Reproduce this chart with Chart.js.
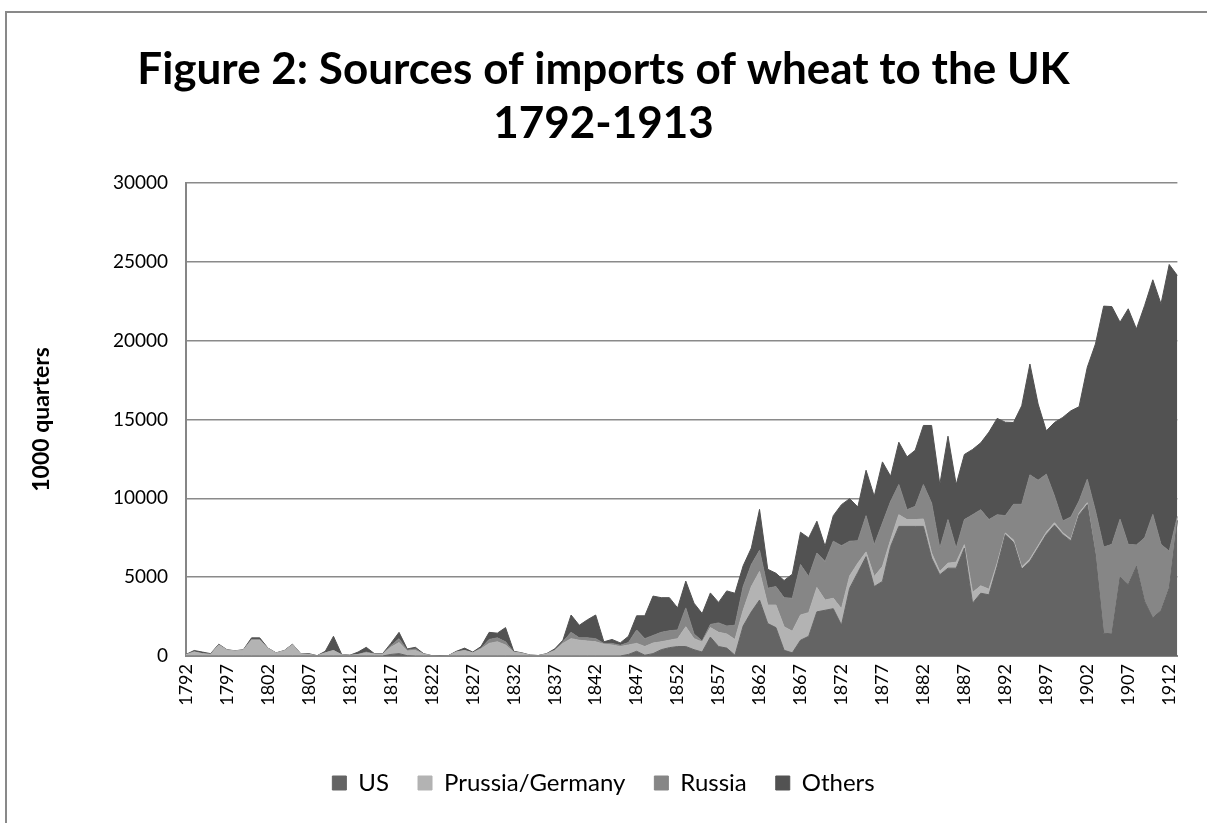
<!DOCTYPE html>
<html>
<head>
<meta charset="utf-8">
<title>Sources of imports of wheat to the UK 1792-1913</title>
<script src="https://cdn.jsdelivr.net/npm/chart.js@4"></script>
<style>
  html, body { margin: 0; padding: 0; background: #fff; overflow: hidden; }
  #frame { position: absolute; left: 5px; top: 11px; width: 1230px; height: 840px;
           border: 2px solid #898989; box-sizing: border-box; }
  #wrap { position: absolute; left: 0; top: 0; width: 1207px; height: 823px; }
</style>
</head>
<body>
<div id="frame"></div>
<div id="wrap"><canvas id="myChart" width="1207" height="823"></canvas></div>
<script>
// years 1792-1913
let years = [
  1792, 1793, 1794, 1795, 1796, 1797, 1798, 1799, 1800, 1801,
  1802, 1803, 1804, 1805, 1806, 1807, 1808, 1809, 1810, 1811,
  1812, 1813, 1814, 1815, 1816, 1817, 1818, 1819, 1820, 1821,
  1822, 1823, 1824, 1825, 1826, 1827, 1828, 1829, 1830, 1831,
  1832, 1833, 1834, 1835, 1836, 1837, 1838, 1839, 1840, 1841,
  1842, 1843, 1844, 1845, 1846, 1847, 1848, 1849, 1850, 1851,
  1852, 1853, 1854, 1855, 1856, 1857, 1858, 1859, 1860, 1861,
  1862, 1863, 1864, 1865, 1866, 1867, 1868, 1869, 1870, 1871,
  1872, 1873, 1874, 1875, 1876, 1877, 1878, 1879, 1880, 1881,
  1882, 1883, 1884, 1885, 1886, 1887, 1888, 1889, 1890, 1891,
  1892, 1893, 1894, 1895, 1896, 1897, 1898, 1899, 1900, 1901,
  1902, 1903, 1904, 1905, 1906, 1907, 1908, 1909, 1910, 1911,
  1912, 1913
];

// only every fifth year gets a label
let tickYears = [1792, 1797, 1802, 1807, 1812, 1817, 1822, 1827, 1832, 1837,
  1842, 1847, 1852, 1857, 1862, 1867, 1872, 1877, 1882, 1887,
  1892, 1897, 1902, 1907, 1912];

// 1000 quarters
let us = [
  0, 0, 0, 0, 0, 0, 0, 0, 0, 0,
  0, 0, 0, 0, 0, 0, 0, 0, 0, 0,
  0, 0, 0, 0, 0, 100, 150, 20, 0, 0,
  0, 0, 0, 0, 0, 0, 0, 0, 0, 0,
  0, 0, 0, 0, 0, 0, 0, 0, 0, 0,
  0, 0, 0, 0, 100, 300, 50, 150, 400, 530,
  600, 600, 400, 250, 1200, 600, 500, 50, 1900, 2800,
  3550, 2060, 1800, 360, 200, 1000, 1250, 2800, 2900, 3000,
  1960, 4300, 5300, 6300, 4400, 4730, 6950, 8220, 8220, 8220,
  8220, 6210, 5150, 5570, 5570, 6840, 3350, 3980, 3880, 5680,
  7690, 7200, 5500, 6000, 6850, 7700, 8300, 7700, 7300, 8950,
  9600, 6400, 1450, 1400, 5000, 4530, 5700, 3480, 2420, 2880,
  4320, 8600
];
let prussia = [
  80, 250, 150, 100, 700, 380, 320, 380, 1000, 1000,
  480, 190, 330, 720, 140, 100, 20, 200, 350, 80,
  40, 100, 200, 120, 120, 450, 700, 300, 350, 120,
  20, 0, 20, 250, 350, 200, 450, 800, 900, 700,
  250, 170, 50, 30, 120, 350, 800, 1100, 1000, 950,
  900, 750, 700, 600, 600, 500, 550, 670, 500, 470,
  500, 1250, 700, 640, 600, 900, 900, 1000, 1000, 1600,
  1810, 1170, 1430, 1490, 1370, 1600, 1500, 1540, 650, 660,
  1040, 780, 590, 300, 640, 950, 420, 740, 430, 430,
  470, 320, 210, 320, 380, 220, 680, 470, 360, 210,
  110, 150, 150, 150, 150, 150, 150, 120, 120, 120,
  120, 30, 0, 0, 0, 0, 0, 0, 0, 0,
  0, 50
];
let russia = [
  0, 20, 0, 0, 0, 0, 0, 0, 50, 50,
  0, 0, 0, 0, 0, 0, 0, 0, 0, 0,
  0, 0, 50, 0, 0, 100, 250, 50, 100, 0,
  0, 0, 0, 0, 0, 0, 50, 250, 250, 200,
  0, 0, 0, 0, 0, 0, 100, 400, 150, 200,
  200, 50, 100, 80, 150, 850, 500, 480, 600, 600,
  550, 1200, 300, 60, 200, 600, 500, 900, 1500, 1400,
  1340, 1070, 1170, 1850, 2090, 3200, 2290, 2190, 2450, 3620,
  4000, 2200, 1420, 2300, 2020, 2750, 2440, 1910, 630, 840,
  2180, 3170, 1480, 2760, 890, 1590, 4930, 4830, 4410, 3070,
  1100, 2270, 3970, 5340, 4150, 3680, 1700, 740, 1400, 760,
  1490, 2770, 5460, 5680, 3670, 2550, 1340, 4020, 6560, 4200,
  2330, 200
];
let others = [
  20, 80, 100, 50, 50, 20, 10, 20, 100, 100,
  20, 10, 20, 30, 10, 50, 0, 100, 900, 20,
  10, 150, 300, 30, 30, 150, 400, 80, 100, 30,
  0, 0, 0, 50, 150, 50, 100, 450, 300, 900,
  50, 30, 10, 0, 30, 100, 100, 1100, 800, 1150,
  1500, 100, 250, 150, 400, 900, 1450, 2500, 2200, 2100,
  1400, 1700, 1950, 1740, 2000, 1300, 2230, 2030, 1320, 1050,
  2600, 1200, 850, 1090, 1530, 2050, 2450, 2020, 960, 1620,
  2600, 2700, 2140, 2880, 3070, 3880, 1590, 2690, 3350, 3560,
  3750, 4920, 4030, 5290, 4030, 4130, 4140, 4240, 5550, 6110,
  5930, 5190, 6250, 7030, 4830, 2750, 4660, 6570, 6730, 5980,
  7100, 10590, 15280, 15080, 12500, 14940, 13700, 14730, 14880, 15250,
  18180, 15280
];

let seriesNames = ['US', 'Prussia/Germany', 'Russia', 'Others'];
let seriesData = [us, prussia, russia, others];
let seriesColors = ['#646464', '#b3b3b3', '#868686', '#525252'];

let fontFamily = "Lato, 'Open Sans', sans-serif";

let datasets = seriesData.map((d, i) => {
  return {
    label: seriesNames[i],
    data: d,
    backgroundColor: seriesColors[i],
    borderColor: seriesColors[i],
    borderWidth: 1,
    pointRadius: 0,
    tension: 0,
    fill: i === 0 ? 'origin' : '-1'
  };
});

let ctx = document.getElementById('myChart').getContext('2d');

let chart = new Chart(ctx, {
  type: 'line',
  data: {
    labels: years,
    datasets: datasets
  },
  options: {
    responsive: false,
    animation: false,
    layout: {
      padding: { left: 0, right: 0, top: 0, bottom: 18 }
    },
    plugins: {
      title: {
        display: true,
        text: ['Figure 2: Sources of imports of wheat to the UK', '1792-1913'],
        color: '#000',
        font: { family: fontFamily, size: 44, weight: 'bold', lineHeight: 1.227 },
        padding: { top: 43, bottom: 32 }
      },
      legend: {
        position: 'bottom',
        labels: {
          color: '#000',
          font: { family: fontFamily, size: 24 },
          boxWidth: 14,
          boxHeight: 14,
          padding: 29
        }
      },
      tooltip: { enabled: false }
    },
    scales: {
      x: {
        offset: false,
        grid: { display: false, drawTicks: false },
        border: { display: true, color: '#868686', width: 2 },
        ticks: {
          autoSkip: false,
          minRotation: 90,
          maxRotation: 90,
          padding: 8,
          color: '#000',
          font: { family: fontFamily, size: 18 },
          callback: function (value, index) {
            let y = years[index];
            return tickYears.includes(y) ? String(y) : '';
          }
        },
        afterFit: function (scale) { scale.height = 86; }
      },
      y: {
        stacked: true,
        min: 0,
        max: 30000,
        grid: { color: '#8a8a8a', lineWidth: 1.5, drawTicks: false },
        border: { display: true, color: '#868686', width: 2 },
        ticks: {
          stepSize: 5000,
          padding: 18,
          color: '#000',
          font: { family: fontFamily, size: 19 },
          callback: function (value) { return String(value); }
        },
        title: {
          display: true,
          text: '1000 quarters',
          color: '#000',
          font: { family: fontFamily, size: 23, weight: 'bold' },
          padding: { top: 28, bottom: 0 }
        },
        afterFit: function (scale) { scale.width = 186; }
      },
      // empty right-hand gutter so the plot ends where the reference does
      gutter: {
        type: 'linear',
        position: 'right',
        grid: { display: false, drawTicks: false },
        border: { display: false },
        ticks: { display: false },
        afterFit: function (scale) { scale.width = 24.4; }
      }
    }
  }
});
</script>
</body>
</html>
